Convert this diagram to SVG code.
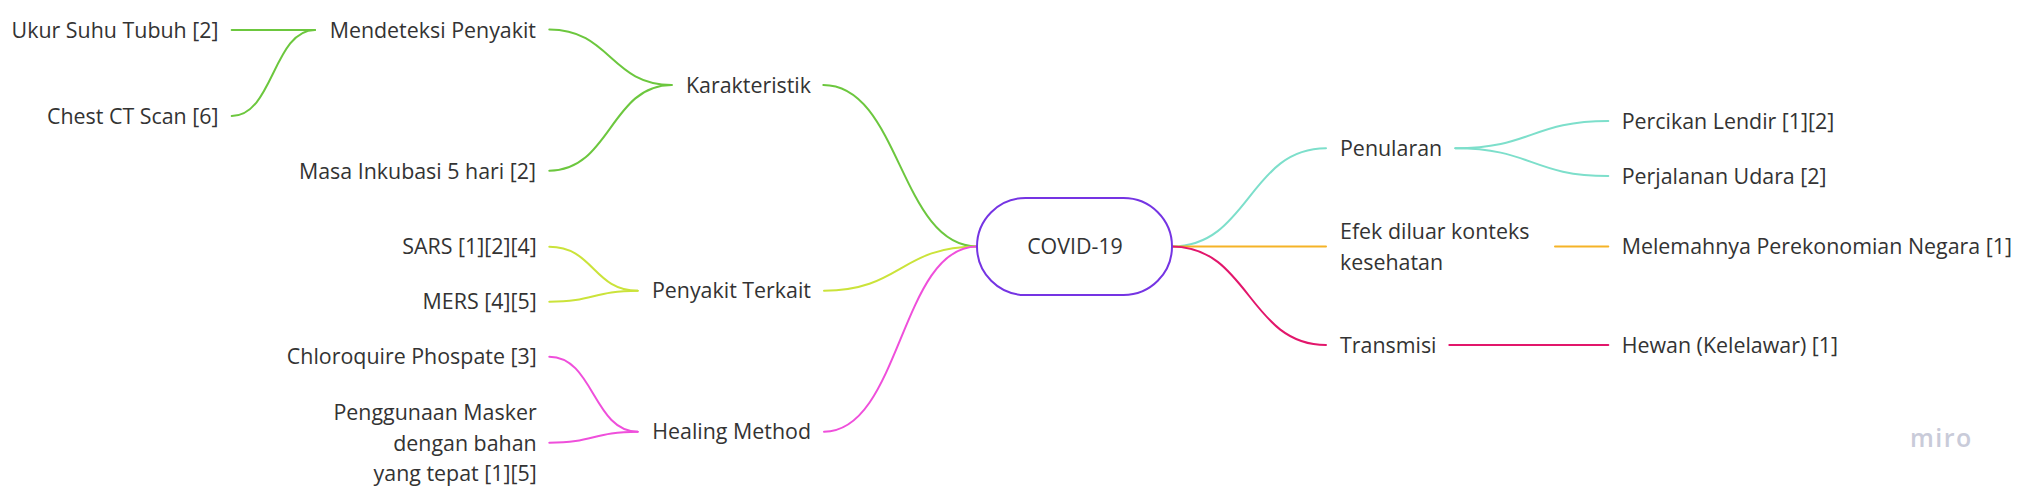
<svg xmlns="http://www.w3.org/2000/svg" width="2021" height="494" viewBox="0 0 2021 494">
<style>
.t{font-family:"Open Sans","Noto Sans","Liberation Sans",sans-serif;font-size:21.4px;fill:#333333}
.e{text-anchor:end}
.c{fill:none;stroke-width:2;stroke-linecap:round}
.g{stroke:#6cc73e}.y{stroke:#cbe33a}.m{stroke:#ef4fdb}.q{stroke:#7ddfcb}.o{stroke:#f5b327}.r{stroke:#e2166b}
</style>
<rect width="2021" height="494" fill="#ffffff"/>
<g id="connectors">
<path class="c g" d="M231.7 30 L315 30"/>
<path class="c g" d="M231.7 116 C273.3 116 273.3 30 315 30"/>
<path class="c g" d="M549.3 29.5 C610.5 29.5 610.5 85 671.7 85"/>
<path class="c g" d="M549.3 170.7 C610.5 170.7 610.5 85 671.7 85"/>
<path class="c g" d="M823.3 85 C900 85 900 246.5 977 246.5"/>
<path class="c y" d="M549.3 246.7 C593.5 246.7 593.5 290.7 637.7 290.7"/>
<path class="c y" d="M549.3 301.7 C593.5 301.7 593.5 290.7 637.7 290.7"/>
<path class="c y" d="M824 290.7 C900.5 290.7 900.5 246.5 977 246.5"/>
<path class="c m" d="M549.3 356.7 C593.5 356.7 593.5 431.7 637.7 431.7"/>
<path class="c m" d="M549.3 442.7 C593.5 442.7 593.5 431.7 637.7 431.7"/>
<path class="c m" d="M824 431.7 C900.5 431.7 900.5 246.5 977 246.5"/>
<path class="c q" d="M1172 246.5 C1249 246.5 1249 148.3 1326 148.3"/>
<path class="c q" d="M1455.3 148.3 C1531.8 148.3 1531.8 121 1608.3 121"/>
<path class="c q" d="M1455.3 148.3 C1531.8 148.3 1531.8 176 1608.3 176"/>
<path class="c o" d="M1172 246.5 L1326 246.5"/>
<path class="c o" d="M1555 246.5 L1608.3 246.5"/>
<path class="c r" d="M1172 246.5 C1249 246.5 1249 345 1326 345"/>
<path class="c r" d="M1449.3 345 L1608.3 345"/>
</g>
<g id="covid19">
<rect x="977" y="198" width="195" height="97" rx="48.5" fill="#ffffff" stroke="#7534e3" stroke-width="2"/>
<text class="t" x="1075" y="254" text-anchor="middle">COVID-19</text>
</g>
<g id="ukur"><text class="t e" x="218.5" y="37.5">Ukur Suhu Tubuh [2]</text></g>
<g id="chest"><text class="t e" x="218.5" y="123.5">Chest CT Scan [6]</text></g>
<g id="mendeteksi"><text class="t e" x="536" y="37.5">Mendeteksi Penyakit</text></g>
<g id="masa"><text class="t e" x="536" y="178.5">Masa Inkubasi 5 hari [2]</text></g>
<g id="karakteristik"><text class="t e" x="811" y="92.5">Karakteristik</text></g>
<g id="sars"><text class="t e" x="536.7" y="254.2">SARS [1][2][4]</text></g>
<g id="mers"><text class="t e" x="536.7" y="309.2">MERS [4][5]</text></g>
<g id="penyakit"><text class="t e" x="811" y="298.2">Penyakit Terkait</text></g>
<g id="chloro"><text class="t e" x="536.7" y="364.2">Chloroquire Phospate [3]</text></g>
<g id="masker"><text class="t e" x="536.7" y="420.2">Penggunaan Masker<tspan x="536.7" y="450.5">dengan bahan</tspan><tspan x="536.7" y="480.8">yang tepat [1][5]</tspan></text></g>
<g id="healing"><text class="t e" x="811" y="439.2">Healing Method</text></g>
<g id="penularan"><text class="t" x="1340" y="155.8">Penularan</text></g>
<g id="efek"><text class="t" x="1340" y="239.2">Efek diluar konteks<tspan x="1340" y="269.5">kesehatan</tspan></text></g>
<g id="transmisi"><text class="t" x="1340" y="352.5">Transmisi</text></g>
<g id="percikan"><text class="t" x="1621.7" y="128.5">Percikan Lendir [1][2]</text></g>
<g id="perjalanan"><text class="t" x="1621.7" y="183.5">Perjalanan Udara [2]</text></g>
<g id="melemahnya"><text class="t" x="1621.7" y="254.2">Melemahnya Perekonomian Negara [1]</text></g>
<g id="hewan"><text class="t" x="1621.7" y="352.5">Hewan (Kelelawar) [1]</text></g>
<text x="1910" y="446.5" font-family="'Open Sans','Noto Sans',sans-serif" font-size="25" font-weight="600" fill="#c9cbd9" letter-spacing="1.5">miro</text>
</svg>
